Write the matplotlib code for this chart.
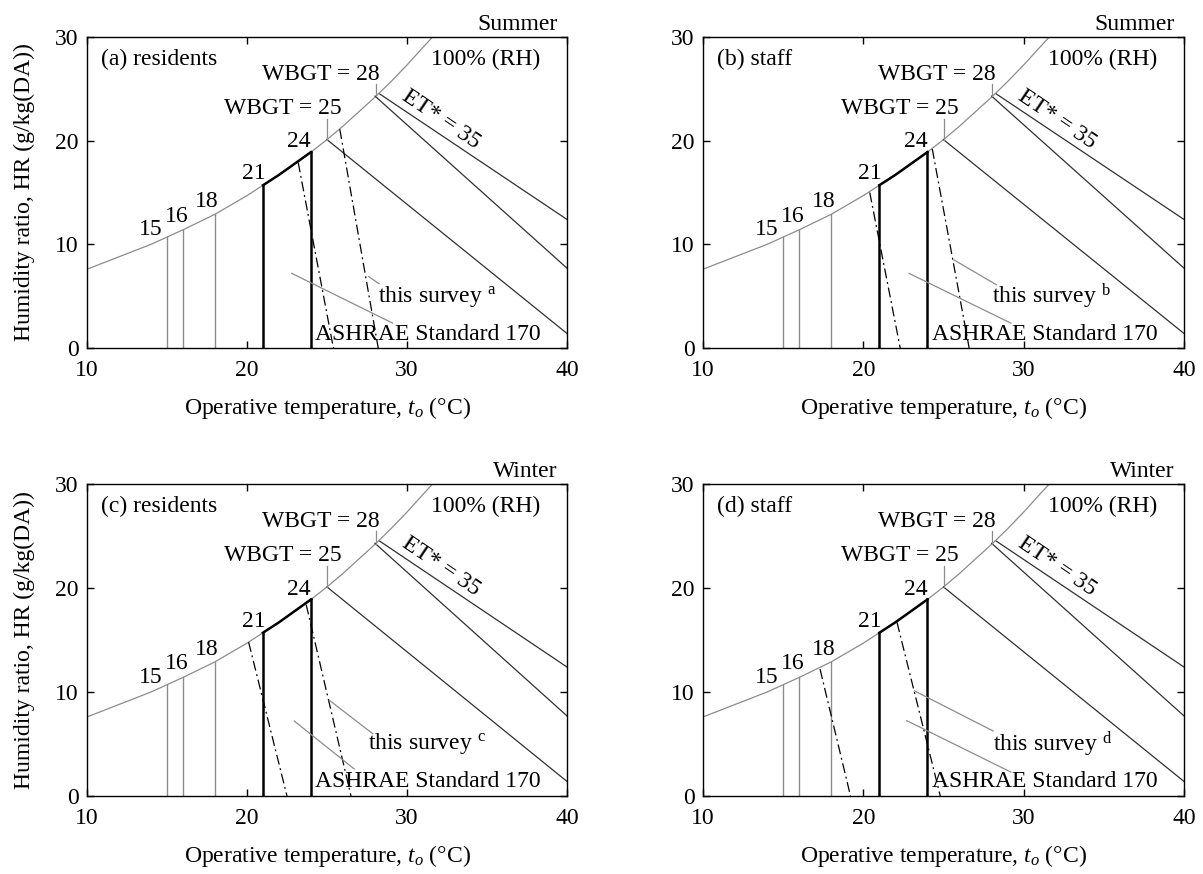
import matplotlib
matplotlib.use("Agg")
import matplotlib.pyplot as plt
import numpy as np

plt.rcParams['font.family'] = ['Liberation Serif', 'DejaVu Serif']
plt.rcParams['mathtext.fontset'] = 'custom'
plt.rcParams['mathtext.rm'] = 'Liberation Serif'
plt.rcParams['mathtext.it'] = 'Liberation Serif:italic'

# saturation curve (100% RH)
sat_t = [10, 12, 14, 15, 16, 18, 20, 21, 22, 23, 24, 25, 26, 27, 28, 29, 30, 31, 31.6]
sat_hr = [7.6, 8.8, 10.0, 10.7, 11.4, 12.9, 14.7, 15.7, 16.7, 17.8, 18.9, 20.1,
          21.4, 22.8, 24.2, 25.7, 27.3, 29.0, 30.0]

thin_temps = [15, 16, 18]
ashrae_temps = [21, 24]

# lines from the WBGT / ET* points down to the right edge
wbgt25_t = [25.0, 40.0]
wbgt25_hr = [20.1, 1.4]
wbgt28_t = [28.0, 40.0]
wbgt28_hr = [24.3, 7.7]
et35_t = [28.3, 40.0]
et35_hr = [24.5, 12.4]
wbgt_ticks_t = [25.0, 28.05]
wbgt_ticks_top = [22.1, 25.5]

panel_titles = ['(a) residents', '(b) staff', '(c) residents', '(d) staff']
seasons = ['Summer', 'Summer', 'Winter', 'Winter']
marks = ['a', 'b', 'c', 'd']

# "this survey" dash-dot lines: top point (t, HR) and t at HR = 0
lower_top_t = [23.2, 20.4, 20.1, 17.3]
lower_top_hr = [17.9, 15.0, 14.8, 12.2]
lower_bot_t = [25.4, 22.3, 22.5, 19.2]
upper_top_t = [25.8, 24.3, 23.7, 22.1]
upper_top_hr = [21.1, 19.2, 18.4, 16.7]
upper_bot_t = [28.2, 26.6, 26.5, 24.8]

# leader lines
survey_lead_t = [[27.6, 28.25], [25.65, 28.3], [25.15, 27.85], [23.2, 28.1]]
survey_lead_hr = [[6.9, 6.2], [8.5, 6.1], [9.2, 6.0], [10.1, 6.25]]
ashrae_lead_t = [[22.8, 29.1], [22.85, 29.2], [22.96, 26.7], [22.7, 29.2]]
ashrae_lead_hr = [[7.2, 2.4], [7.2, 2.4], [7.2, 2.6], [7.25, 2.3]]
survey_text_t = [31.9, 31.7, 31.25, 31.8]

W, H = 1203, 874
fig = plt.figure(figsize=(W / 100, H / 100), dpi=100)
rects = [(87, 37, 567, 348), (703, 37, 1184, 348),
         (87, 484, 567, 796), (703, 484, 1184, 796)]

gray = '#8c8c8c'
dark = '#303030'
fs = 17

for i, (x0, y0, x1, y1) in enumerate(rects):
    ax = fig.add_axes([x0 / W, 1 - y1 / H, (x1 - x0) / W, (y1 - y0) / H])
    ax.set_xlim(10, 40)
    ax.set_ylim(0, 30)

    ax.plot(sat_t, sat_hr, color=gray, lw=0.9)
    for t in thin_temps:
        ax.plot([t, t], [0, np.interp(t, sat_t, sat_hr)], color=gray, lw=1.0)
    for t in ashrae_temps:
        ax.plot([t, t], [0, np.interp(t, sat_t, sat_hr)], color='black', lw=1.8)
    seg_t = np.linspace(21, 24, 20)
    ax.plot(seg_t, np.interp(seg_t, sat_t, sat_hr), color='black', lw=1.8)

    ax.plot(wbgt25_t, wbgt25_hr, color=dark, lw=0.9)
    ax.plot(wbgt28_t, wbgt28_hr, color=dark, lw=0.9)
    ax.plot(et35_t, et35_hr, color=dark, lw=0.9)
    for t, top in zip(wbgt_ticks_t, wbgt_ticks_top):
        ax.plot([t, t], [np.interp(t, sat_t, sat_hr), top], color=gray, lw=0.9)

    dd = (0, (8, 3, 1.5, 3))
    ax.plot([lower_top_t[i], lower_bot_t[i]], [lower_top_hr[i], 0], color='black',
            lw=0.9, ls=dd)
    ax.plot([upper_top_t[i], upper_bot_t[i]], [upper_top_hr[i], 0], color='black',
            lw=0.9, ls=dd)
    ax.plot(survey_lead_t[i], survey_lead_hr[i], color=gray, lw=0.9)
    ax.plot(ashrae_lead_t[i], ashrae_lead_hr[i], color=gray, lw=0.9)

    # text
    ax.text(10.9, 27.8, panel_titles[i], fontsize=fs, va='center', ha='left')
    ax.text(39.4, 30.15, seasons[i], fontsize=fs, va='bottom', ha='right')
    ax.text(34.9, 27.8, '100% (RH)', fontsize=fs, va='center', ha='center')
    ax.text(24.6, 26.4, 'WBGT = 28', fontsize=fs, va='center', ha='center')
    ax.text(22.25, 23.1, 'WBGT = 25', fontsize=fs, va='center', ha='center')
    ax.text(32.1, 22.1, 'ET* = 35', fontsize=fs, va='center', ha='center',
            rotation=-34)
    for t, lab, y in zip([14.0, 15.6, 17.5, 20.4, 23.25], ['15', '16', '18', '21', '24'],
                         [11.4, 12.7, 14.1, 16.8, 19.9]):
        ax.text(t, y, lab, fontsize=fs, va='center', ha='center')
    ax.text(survey_text_t[i], 5.0, 'this survey $^{\\mathrm{' + marks[i] + '}}$',
            fontsize=fs, va='center', ha='center')
    ax.text(31.3, 1.35, 'ASHRAE Standard 170', fontsize=fs, va='center', ha='center')

    ax.set_xticks([10, 20, 30, 40])
    ax.set_yticks([0, 10, 20, 30])
    ax.tick_params(direction='in', top=True, right=True, length=5, width=1,
                   labelsize=fs)
    ax.tick_params(axis='x', pad=9)
    ax.tick_params(axis='y', pad=6)
    for s in ax.spines.values():
        s.set_linewidth(1.0)
    ax.set_xlabel('Operative temperature, $t_o$ (\u00b0C)', fontsize=fs)
    ax.xaxis.set_label_coords(0.5, -0.152)
    if i % 2 == 0:
        ax.set_ylabel('Humidity ratio, HR (g/kg(DA))', fontsize=fs)
        ax.yaxis.set_label_coords(-0.108, 0.5)

fig.savefig('out.png', dpi=100)
